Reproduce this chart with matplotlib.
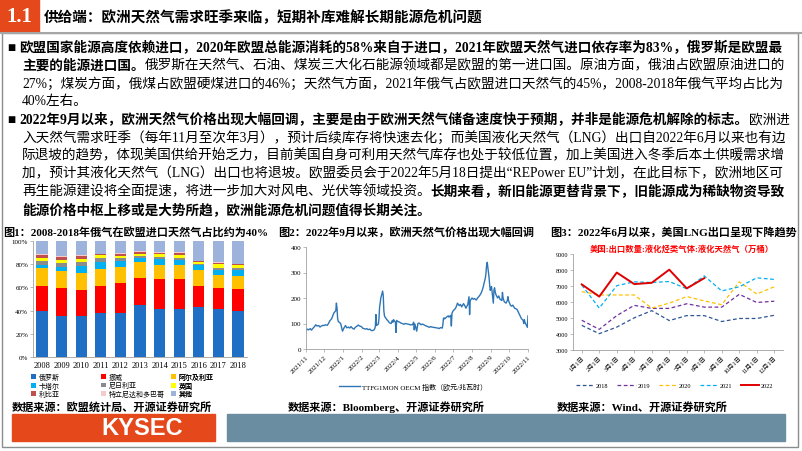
import matplotlib
matplotlib.use('Agg')
import matplotlib.pyplot as plt
import pandas as pd
from matplotlib.patches import Rectangle

plt.rcParams['font.family'] = ['Liberation Serif', 'Noto Sans CJK SC']
plt.rcParams['axes.unicode_minus'] = False

# ---------------- chart 1: EU gas import shares by supplier (%)
years = ['2008', '2009', '2010', '2011', '2012', '2013', '2014', '2015', '2016', '2017', '2018']
suppliers = ['俄罗斯', '挪威', '阿尔及利亚', '卡塔尔', '尼日利亚', '英国', '利比亚', '特立尼达和多巴哥', '其他']
russia = [39.5, 35.0, 35.0, 38.0, 38.0, 44.5, 41.0, 41.5, 43.5, 41.5, 40.0]
norway = [21.5, 24.5, 22.5, 23.0, 26.0, 23.5, 26.0, 25.5, 18.0, 18.0, 18.5]
algeria = [15.5, 14.5, 14.5, 14.5, 14.0, 14.0, 12.5, 12.0, 13.5, 11.5, 11.5]
qatar = [2.5, 4.0, 6.5, 6.0, 5.0, 3.5, 5.0, 5.0, 4.0, 4.0, 5.0]
nigeria = [4.0, 3.0, 3.5, 3.5, 2.5, 1.5, 1.5, 1.5, 1.0, 2.0, 2.0]
uk = [2.0, 2.5, 2.5, 3.0, 2.0, 2.0, 2.5, 2.5, 1.5, 3.0, 2.0]
libya = [3.0, 2.5, 2.5, 0.5, 1.5, 1.5, 1.5, 2.0, 1.0, 1.0, 1.0]
trinidad = [1.0, 1.0, 1.0, 0.5, 1.0, 1.0, 0.5, 0.5, 0.5, 0.5, 0.5]
others = [11.0, 13.0, 12.0, 11.0, 10.0, 8.5, 9.5, 9.5, 17.0, 18.5, 19.5]
supplier_colors = ['#1F6FC4', '#FF0000', '#FFC000', '#00B0F0', '#8C8C8C',
                   '#FFFF00', '#C0504D', '#F4CCCC', '#9DB3DC']

# ---------------- chart 2: TTF front-month price (EUR/MWh)
ttf_dates = [
    '2021-11-01', '2021-11-03', '2021-11-05', '2021-11-08', '2021-11-10', '2021-11-12',
    '2021-11-15', '2021-11-17', '2021-11-19', '2021-11-22', '2021-11-24', '2021-11-26',
    '2021-11-29', '2021-12-01', '2021-12-03', '2021-12-06', '2021-12-08', '2021-12-10',
    '2021-12-13', '2021-12-15', '2021-12-17', '2021-12-20', '2021-12-21', '2021-12-22',
    '2021-12-23', '2021-12-24', '2021-12-28', '2021-12-30', '2021-12-31', '2022-01-03',
    '2022-01-05', '2022-01-07', '2022-01-10', '2022-01-12', '2022-01-14', '2022-01-17',
    '2022-01-19', '2022-01-21', '2022-01-24', '2022-01-26', '2022-01-28', '2022-01-31',
    '2022-02-02', '2022-02-04', '2022-02-07', '2022-02-09', '2022-02-11', '2022-02-14',
    '2022-02-16', '2022-02-18', '2022-02-21', '2022-02-22', '2022-02-23', '2022-02-24',
    '2022-02-25', '2022-02-28', '2022-03-01', '2022-03-02', '2022-03-03', '2022-03-04',
    '2022-03-07', '2022-03-08', '2022-03-09', '2022-03-10', '2022-03-11', '2022-03-14',
    '2022-03-16', '2022-03-18', '2022-03-21', '2022-03-23', '2022-03-24', '2022-03-25',
    '2022-03-28', '2022-03-29', '2022-03-30', '2022-04-01', '2022-04-04', '2022-04-06',
    '2022-04-08', '2022-04-11', '2022-04-13', '2022-04-19', '2022-04-21', '2022-04-25',
    '2022-04-27', '2022-04-28', '2022-04-29', '2022-05-02', '2022-05-04', '2022-05-06',
    '2022-05-09', '2022-05-11', '2022-05-13', '2022-05-16', '2022-05-18', '2022-05-20',
    '2022-05-23', '2022-05-25', '2022-05-27', '2022-05-30', '2022-06-01', '2022-06-03',
    '2022-06-06', '2022-06-08', '2022-06-10', '2022-06-13', '2022-06-14', '2022-06-15',
    '2022-06-16', '2022-06-17', '2022-06-20', '2022-06-22', '2022-06-23', '2022-06-24',
    '2022-06-27', '2022-06-28', '2022-06-29', '2022-06-30', '2022-07-01', '2022-07-05',
    '2022-07-07', '2022-07-08', '2022-07-11', '2022-07-13', '2022-07-15', '2022-07-18',
    '2022-07-20', '2022-07-22', '2022-07-25', '2022-07-26', '2022-07-27', '2022-07-28',
    '2022-07-29', '2022-08-01', '2022-08-03', '2022-08-05', '2022-08-08', '2022-08-10',
    '2022-08-12', '2022-08-15', '2022-08-17', '2022-08-19', '2022-08-22', '2022-08-23',
    '2022-08-24', '2022-08-25', '2022-08-26', '2022-08-29', '2022-08-30', '2022-08-31',
    '2022-09-01', '2022-09-02', '2022-09-05', '2022-09-06', '2022-09-07', '2022-09-08',
    '2022-09-09', '2022-09-12', '2022-09-14', '2022-09-16', '2022-09-19', '2022-09-20',
    '2022-09-21', '2022-09-23', '2022-09-26', '2022-09-28', '2022-09-29', '2022-09-30',
    '2022-10-03', '2022-10-05', '2022-10-07', '2022-10-10', '2022-10-12', '2022-10-14',
    '2022-10-17', '2022-10-19', '2022-10-21', '2022-10-24', '2022-10-25', '2022-10-26',
    '2022-10-27', '2022-10-28', '2022-10-31', '2022-11-01',
]
ttf_values = [
    72, 78, 75, 80, 74, 80,
    88, 95, 90, 92, 86, 90,
    93, 92, 95, 93, 100, 110,
    118, 130, 142, 150, 180, 160,
    120, 108, 100, 80, 70, 85,
    92, 83, 86, 82, 88, 80,
    78, 85, 90, 94, 90, 88,
    82, 80, 78, 80, 76, 78,
    73, 72, 75, 80, 88, 135,
    92, 98, 120, 165, 180, 200,
    227, 210, 150, 130, 125, 115,
    110, 103, 100, 112, 105, 115,
    105, 65, 112, 108, 105, 102,
    100, 97, 100, 97, 95, 95,
    105, 75, 98, 70, 100, 102,
    95, 98, 96, 92, 90, 88,
    85, 88, 86, 85, 84, 83,
    82, 80, 84, 82, 95, 120,
    122, 118, 125, 128, 130, 125,
    132, 90, 140, 145, 150, 160,
    172, 180, 170, 175, 165, 178,
    170, 160, 175, 190, 205, 135,
    190, 200, 195, 198, 192, 200,
    205, 215, 225, 240, 270, 280,
    300, 330, 340, 280, 250, 230,
    240, 245, 180, 230, 240, 225,
    215, 200, 208, 195, 190, 222,
    200, 185, 180, 190, 205, 190,
    172, 168, 172, 160, 158, 155,
    140, 130, 120, 112, 100, 115,
    105, 100, 85, 130,
]

# ---------------- chart 3: US LNG exports (10k barrels)
months = ['1月1日', '2月1日', '3月1日', '4月1日', '5月1日', '6月1日',
          '7月1日', '8月1日', '9月1日', '10月1日', '11月1日', '12月1日']
lng_2018 = [4540, 4020, 4430, 5010, 5460, 4840, 5150, 5150, 4780, 4970, 4970, 5170]
lng_2019 = [4860, 4290, 5150, 5790, 5600, 5600, 5890, 5680, 5680, 6480, 5970, 6050]
lng_2020 = [6650, 6440, 6440, 6440, 5620, 5930, 6340, 6070, 5830, 7260, 6500, 6950]
lng_2021 = [7060, 5620, 7020, 7260, 7220, 7280, 6830, 7630, 6690, 6950, 7510, 7410]
lng_2022 = [7100, 6340, 7840, 7120, 7200, 8020, 6850, 7490]

W, H = 802, 452
fig = plt.figure(figsize=(W / 100, H / 100), dpi=100)
bg = fig.add_axes([0, 0, 1, 1])
bg.set_xlim(0, W)
bg.set_ylim(H, 0)
bg.axis('off')
renderer = fig.canvas.get_renderer()

ORANGE = '#E5481B'
AXIS_GRAY = '#A0A0A0'
BODY = 9.8


def px_axes(x0, y0, x1, y1):
    return fig.add_axes([x0 / W, 1 - y1 / H, (x1 - x0) / W, (y1 - y0) / H])


def text_line(x, y, runs, size=BODY):
    for s, bold in runs:
        t = bg.text(x, y, s, fontsize=size, fontweight='bold' if bold else 'normal',
                    va='center', ha='left', color='black')
        x += t.get_window_extent(renderer).width


# ---------------- header and frame
bg.add_patch(Rectangle((0, 0), 39, 33, color=ORANGE))
bg.text(19.5, 17, '1.1', color='white', fontsize=15, fontweight='bold', ha='center', va='center')
bg.text(44, 17, '供给端：欧洲天然气需求旺季来临，短期补库难解长期能源危机问题',
        fontsize=10.5, fontweight='bold', va='center', ha='left', family='Noto Sans CJK SC')
bg.plot([0, W], [34, 34], color='#A6A6A6', lw=1.5)
bg.add_patch(Rectangle((2, 34), 796, 414, fill=False, edgecolor='#8C8C8C', lw=1))

# ---------------- paragraphs
ys = [48, 66, 84, 102, 120, 138, 156, 174, 192, 210]
text_line(8, ys[0], [('■ ', False), ('欧盟国家能源高度依赖进口，2020年欧盟总能源消耗的58%来自于进口，2021年欧盟天然气进口依存率为83%，俄罗斯是欧盟最', True)])
text_line(22, ys[1], [('主要的能源进口国。', True), ('俄罗斯在天然气、石油、煤炭三大化石能源领域都是欧盟的第一进口国。原油方面，俄油占欧盟原油进口的', False)])
text_line(22, ys[2], [('27%；煤炭方面，俄煤占欧盟硬煤进口的46%；天然气方面，2021年俄气占欧盟进口天然气的45%，2008-2018年俄气平均占比为', False)])
text_line(22, ys[3], [('40%左右。', False)])
text_line(8, ys[4], [('■ ', False), ('2022年9月以来，欧洲天然气价格出现大幅回调，主要是由于欧洲天然气储备速度快于预期，并非是能源危机解除的标志。', True), ('欧洲进', False)])
text_line(22, ys[5], [('入天然气需求旺季（每年11月至次年3月），预计后续库存将快速去化；而美国液化天然气（LNG）出口自2022年6月以来也有边', False)])
text_line(22, ys[6], [('际退坡的趋势，体现美国供给开始乏力，目前美国自身可利用天然气库存也处于较低位置，加上美国进入冬季后本土供暖需求增', False)])
text_line(22, ys[7], [('加，预计其液化天然气（LNG）出口也将退坡。欧盟委员会于2022年5月18日提出“REPower EU”计划，在此目标下，欧洲地区可', False)])
text_line(22, ys[8], [('再生能源建设将全面提速，将进一步加大对风电、光伏等领域投资。', False), ('长期来看，新旧能源更替背景下，旧能源成为稀缺物资导致', True)])
text_line(22, ys[9], [('能源价格中枢上移或是大势所趋，欧洲能源危机问题值得长期关注。', True)])

# ---------------- captions and sources
cap_kw = dict(fontsize=8, fontweight='bold', va='center', ha='left')
bg.text(3, 232, '图1：2008-2018年俄气在欧盟进口天然气占比约为40%', **cap_kw)
bg.text(278, 232, '图2：2022年9月以来，欧洲天然气价格出现大幅回调', **cap_kw)
bg.text(550, 232, '图3：2022年6月以来，美国LNG出口呈现下降趋势', **cap_kw)
bg.text(12, 407, '数据来源：欧盟统计局、开源证券研究所', **cap_kw)
bg.text(288, 407, '数据来源：Bloomberg、开源证券研究所', **cap_kw)
bg.text(557, 407, '数据来源：Wind、开源证券研究所', **cap_kw)

# ---------------- footer bars
bg.add_patch(Rectangle((12, 415), 203, 27, color=ORANGE))
bg.text(142, 429, 'KYSEC', color='white', fontsize=17, fontweight='bold',
        family='Liberation Sans', ha='center', va='center')
bg.add_patch(Rectangle((227, 415), 558, 27, color='#6B8DA2'))


def style_axes(ax, size):
    for side in ['top', 'right']:
        ax.spines[side].set_visible(False)
    for side in ['left', 'bottom']:
        ax.spines[side].set_color(AXIS_GRAY)
        ax.spines[side].set_linewidth(0.6)
    ax.tick_params(labelsize=size, length=2, width=0.5, color=AXIS_GRAY, pad=1.5)
    ax.set_facecolor('none')


# ---------------- chart 1
ax1 = px_axes(33, 242, 247, 358)
series = [russia, norway, algeria, qatar, nigeria, uk, libya, trinidad, others]
bottom = [0.0] * len(years)
handles = []
for name, vals, col in zip(suppliers, series, supplier_colors):
    b = ax1.bar(range(len(years)), vals, 0.58, bottom=bottom, color=col, label=name)
    handles.append(b)
    bottom = [p + v for p, v in zip(bottom, vals)]
ax1.set_xlim(-0.46, len(years) - 0.54)
ax1.set_ylim(0, 100)
ax1.set_yticks([0, 20, 40, 60, 80, 100])
ax1.set_yticklabels(['0%', '20%', '40%', '60%', '80%', '100%'])
ax1.set_xticks(range(len(years)))
ax1.set_xticklabels(years)
style_axes(ax1, 5)
ax1.tick_params(axis='x', length=0, labelsize=6, pad=3)
for col_i, lx in enumerate([31, 101, 171]):
    idx = [col_i, col_i + 3, col_i + 6]
    leg = ax1.legend([handles[i] for i in idx], [suppliers[i] for i in idx],
                     loc='center left', bbox_to_anchor=(lx, 386), bbox_transform=bg.transData,
                     frameon=False, fontsize=5, handlelength=0.7, handleheight=0.7,
                     labelspacing=0.2, handletextpad=0.4, borderpad=0, borderaxespad=0)
    ax1.add_artist(leg)

# ---------------- chart 2
ax2 = px_axes(306, 248, 528, 350)
ttf_x = pd.to_datetime(ttf_dates)
ax2.plot(ttf_x, ttf_values, color='#2E75B6', lw=1.0,
         label='TTFG1MON OECM 指数（欧元/兆瓦时）')
month_ticks = pd.date_range('2021-11-01', '2022-11-01', freq='MS')
ax2.set_xticks(month_ticks)
ax2.set_xticklabels([f'{d.year}/{d.month}' for d in month_ticks], rotation=45,
                    ha='right', rotation_mode='anchor')
ax2.set_xlim(month_ticks[0], month_ticks[-1])
ax2.set_ylim(0, 400)
ax2.set_yticks([0, 100, 200, 300, 400])
style_axes(ax2, 5)
ax2.legend(loc='center', bbox_to_anchor=(413, 387), bbox_transform=bg.transData,
           frameon=False, fontsize=5, handlelength=3, handletextpad=0.2, borderpad=0)

# ---------------- chart 3
ax3 = px_axes(573, 255, 783, 351)
xs = list(range(len(months)))
line_specs = [('2018', lng_2018, '#2F5597'), ('2019', lng_2019, '#7030A0'),
              ('2020', lng_2020, '#FFC000'), ('2021', lng_2021, '#00B0F0')]
for lab, vals, col in line_specs:
    ax3.plot(xs[:len(vals)], vals, color=col, lw=0.9, ls=(0, (3, 2)), label=lab)
ax3.plot(xs[:len(lng_2022)], lng_2022, color='#E00000', lw=1.4, label='2022')
ax3.set_xlim(-0.5, len(months) - 0.5)
ax3.set_ylim(3000, 9000)
ax3.set_yticks(range(3000, 9001, 1000))
ax3.set_xticks(xs)
ax3.set_xticklabels(months, rotation=45, ha='right', rotation_mode='anchor')
style_axes(ax3, 4.5)
ax3.legend(loc='center left', bbox_to_anchor=(573, 386), bbox_transform=bg.transData,
           ncol=5, frameon=False, fontsize=4.5, handlelength=2.9, handletextpad=0.3,
           columnspacing=1.4, borderpad=0)
bg.text(590, 249, '美国:出口数量:液化烃类气体:液化天然气（万桶）', color='#FF0000',
        fontsize=6, fontweight='bold', va='center', ha='left')

fig.savefig('out.png', dpi=100)
